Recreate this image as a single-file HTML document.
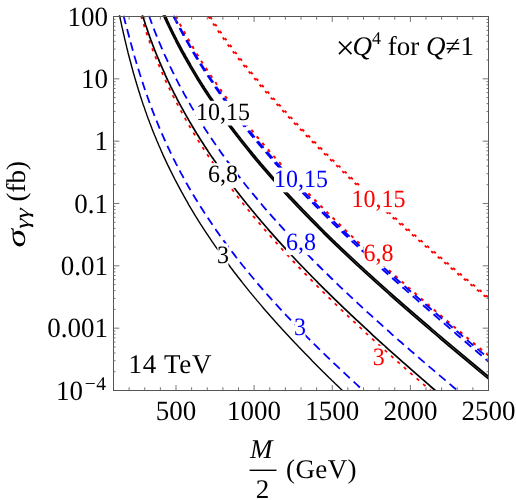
<!DOCTYPE html>
<html><head><meta charset="utf-8"><title>plot</title>
<style>
html,body{margin:0;padding:0;background:#fff;}
body{width:516px;height:500px;position:relative;overflow:hidden;font-family:"Liberation Serif",serif;color:#000;}
#wrap{position:absolute;left:0;top:0;width:516px;height:500px;will-change:transform;transform:translateZ(0);}
</style></head><body><div id="wrap">
<svg width="516" height="500" viewBox="0 0 516 500" style="position:absolute;left:0;top:0"><defs><clipPath id="c"><rect x="113.0" y="15.3" width="376.0" height="375.7"/></clipPath></defs><g clip-path="url(#c)" fill="none"><path d="M138.8 8.5L139.3 10.0L139.7 11.5L140.1 13.0L140.6 14.5L141.0 16.0L141.5 17.5L142.0 19.0L142.4 20.5L142.9 22.1L143.4 23.6L143.9 25.1L144.4 26.6L144.9 28.1L145.4 29.6L145.9 31.1L146.4 32.6L146.9 34.1L147.4 35.6L147.9 37.1L148.5 38.6L149.0 40.1L149.6 41.6L150.1 43.1L150.7 44.6L151.2 46.1L151.8 47.7L152.4 49.2L153.0 50.7L153.5 52.2L154.1 53.7L154.7 55.2L155.3 56.7L155.9 58.2L156.5 59.7L157.2 61.2L157.8 62.7L158.4 64.2L159.1 65.7L159.7 67.2L160.3 68.7L161.0 70.2L161.7 71.7L162.3 73.2L163.0 74.8L163.7 76.3L164.3 77.8L165.0 79.3L165.7 80.8L166.4 82.3L167.1 83.8L167.9 85.3L168.6 86.8L169.3 88.3L170.0 89.8L170.8 91.3L171.5 92.8L172.3 94.3L173.0 95.8L173.8 97.3L174.5 98.8L175.3 100.4L176.1 101.9L176.9 103.4L177.7 104.9L178.5 106.4L179.3 107.9L180.1 109.4L180.9 110.9L181.7 112.4L182.6 113.9L183.4 115.4L184.2 116.9L185.1 118.4L185.9 119.9L186.8 121.4L187.7 122.9L188.5 124.4L189.4 126.0L190.3 127.5L191.2 129.0L192.1 130.5L193.0 132.0L193.9 133.5L194.8 135.0L195.7 136.5L196.7 138.0L197.6 139.5L198.5 141.0L199.5 142.5L200.4 144.0L201.4 145.5L202.4 147.0L203.3 148.5L204.3 150.0L205.3 151.6L206.3 153.1L207.3 154.6L208.3 156.1L209.3 157.6L210.3 159.1L211.3 160.6L212.4 162.1L213.4 163.6L214.4 165.1L215.5 166.6L216.5 168.1L217.6 169.6L218.7 171.1L219.7 172.6L220.8 174.1L221.9 175.6L223.0 177.1L224.1 178.7L225.2 180.2L226.3 181.7L227.4 183.2L228.5 184.7L229.6 186.2L230.8 187.7L231.9 189.2L233.1 190.7L234.2 192.2L235.4 193.7L236.5 195.2L237.7 196.7L238.9 198.2L240.1 199.7L241.2 201.2L242.4 202.7L243.6 204.3L244.8 205.8L246.0 207.3L247.3 208.8L248.5 210.3L249.7 211.8L250.9 213.3L252.2 214.8L253.4 216.3L254.7 217.8L255.9 219.3L257.2 220.8L258.5 222.3L259.8 223.8L261.0 225.3L262.3 226.8L263.6 228.3L264.9 229.9L266.2 231.4L267.5 232.9L268.8 234.4L270.2 235.9L271.5 237.4L272.8 238.9L274.1 240.4L275.5 241.9L276.8 243.4L278.2 244.9L279.6 246.4L280.9 247.9L282.3 249.4L283.7 250.9L285.0 252.4L286.4 253.9L287.8 255.4L289.2 257.0L290.6 258.5L292.0 260.0L293.4 261.5L294.9 263.0L296.3 264.5L297.7 266.0L299.1 267.5L300.6 269.0L302.0 270.5L303.5 272.0L304.9 273.5L306.4 275.0L307.8 276.5L309.3 278.0L310.8 279.5L312.3 281.0L313.7 282.6L315.2 284.1L316.7 285.6L318.2 287.1L319.7 288.6L321.2 290.1L322.7 291.6L324.3 293.1L325.8 294.6L327.3 296.1L328.8 297.6L330.4 299.1L331.9 300.6L333.5 302.1L335.0 303.6L336.6 305.1L338.1 306.6L339.7 308.2L341.2 309.7L342.8 311.2L344.4 312.7L346.0 314.2L347.5 315.7L349.1 317.2L350.7 318.7L352.3 320.2L353.9 321.7L355.5 323.2L357.1 324.7L358.7 326.2L360.3 327.7L362.0 329.2L363.6 330.7L365.2 332.2L366.8 333.8L368.5 335.3L370.1 336.8L371.7 338.3L373.4 339.8L375.0 341.3L376.7 342.8L378.3 344.3L380.0 345.8L381.7 347.3L383.3 348.8L385.0 350.3L386.7 351.8L388.3 353.3L390.0 354.8L391.7 356.3L393.4 357.8L395.0 359.3L396.7 360.9L398.4 362.4L400.1 363.9L401.8 365.4L403.5 366.9L405.2 368.4L406.9 369.9L408.6 371.4L410.3 372.9L412.0 374.4L413.8 375.9L415.5 377.4L417.2 378.9L418.9 380.4L420.6 381.9L422.4 383.4L424.1 384.9L425.8 386.5L427.6 388.0L429.3 389.5L431.0 391.0L432.8 392.5L434.5 394.0L436.3 395.5L438.0 397.0L439.7 398.5" stroke="#ff0000" stroke-width="1.8" stroke-dasharray="3.2 5.35" stroke-dashoffset="-7.79"/><path d="M172.2 8.5L172.9 10.0L173.7 11.5L174.4 13.0L175.1 14.5L175.9 16.0L176.7 17.5L177.4 19.0L178.2 20.5L179.0 22.1L179.7 23.6L180.5 25.1L181.3 26.6L182.1 28.1L182.9 29.6L183.8 31.1L184.6 32.6L185.4 34.1L186.2 35.6L187.1 37.1L187.9 38.6L188.8 40.1L189.6 41.6L190.5 43.1L191.4 44.6L192.3 46.1L193.2 47.7L194.1 49.2L195.0 50.7L195.9 52.2L196.8 53.7L197.7 55.2L198.6 56.7L199.6 58.2L200.5 59.7L201.4 61.2L202.4 62.7L203.4 64.2L204.3 65.7L205.3 67.2L206.3 68.7L207.3 70.2L208.3 71.7L209.3 73.2L210.3 74.8L211.3 76.3L212.3 77.8L213.3 79.3L214.3 80.8L215.4 82.3L216.4 83.8L217.5 85.3L218.5 86.8L219.6 88.3L220.7 89.8L221.7 91.3L222.8 92.8L223.9 94.3L225.0 95.8L226.1 97.3L227.2 98.8L228.3 100.4L229.4 101.9L230.6 103.4L231.7 104.9L232.8 106.4L234.0 107.9L235.1 109.4L236.3 110.9L237.4 112.4L238.6 113.9L239.8 115.4L241.0 116.9L242.2 118.4L243.3 119.9L244.5 121.4L245.7 122.9L247.0 124.4L248.2 126.0L249.4 127.5L250.6 129.0L251.9 130.5L253.1 132.0L254.3 133.5L255.6 135.0L256.8 136.5L258.1 138.0L259.4 139.5L260.6 141.0L261.9 142.5L263.2 144.0L264.5 145.5L265.8 147.0L267.1 148.5L268.4 150.0L269.7 151.6L271.0 153.1L272.4 154.6L273.7 156.1L275.0 157.6L276.4 159.1L277.7 160.6L279.1 162.1L280.4 163.6L281.8 165.1L283.2 166.6L284.5 168.1L285.9 169.6L287.3 171.1L288.7 172.6L290.1 174.1L291.5 175.6L292.9 177.1L294.3 178.7L295.7 180.2L297.1 181.7L298.6 183.2L300.0 184.7L301.4 186.2L302.9 187.7L304.3 189.2L305.8 190.7L307.2 192.2L308.7 193.7L310.2 195.2L311.6 196.7L313.1 198.2L314.6 199.7L316.1 201.2L317.6 202.7L319.1 204.3L320.6 205.8L322.1 207.3L323.6 208.8L325.1 210.3L326.6 211.8L328.1 213.3L329.7 214.8L331.2 216.3L332.7 217.8L334.3 219.3L335.8 220.8L337.4 222.3L338.9 223.8L340.5 225.3L342.1 226.8L343.6 228.3L345.2 229.9L346.8 231.4L348.4 232.9L350.0 234.4L351.5 235.9L353.1 237.4L354.7 238.9L356.3 240.4L357.9 241.9L359.6 243.4L361.2 244.9L362.8 246.4L364.4 247.9L366.0 249.4L367.7 250.9L369.3 252.4L370.9 253.9L372.6 255.4L374.2 257.0L375.9 258.5L377.5 260.0L379.2 261.5L380.9 263.0L382.5 264.5L384.2 266.0L385.9 267.5L387.5 269.0L389.2 270.5L390.9 272.0L392.6 273.5L394.3 275.0L396.0 276.5L397.7 278.0L399.4 279.5L401.1 281.0L402.8 282.6L404.5 284.1L406.2 285.6L407.9 287.1L409.6 288.6L411.3 290.1L413.1 291.6L414.8 293.1L416.5 294.6L418.3 296.1L420.0 297.6L421.7 299.1L423.5 300.6L425.2 302.1L427.0 303.6L428.7 305.1L430.5 306.6L432.2 308.2L434.0 309.7L435.7 311.2L437.5 312.7L439.2 314.2L441.0 315.7L442.8 317.2L444.6 318.7L446.3 320.2L448.1 321.7L449.9 323.2L451.7 324.7L453.4 326.2L455.2 327.7L457.0 329.2L458.8 330.7L460.6 332.2L462.4 333.8L464.2 335.3L466.0 336.8L467.8 338.3L469.6 339.8L471.4 341.3L473.2 342.8L475.0 344.3L476.8 345.8L478.6 347.3L480.4 348.8L482.2 350.3L484.0 351.8L485.8 353.3L487.6 354.8L489.5 356.3L491.3 357.8L493.1 359.3L494.9 360.9L496.7 362.4L498.6 363.9L500.4 365.4L502.2 366.9L504.0 368.4L505.8 369.9L507.7 371.4L509.5 372.9L511.3 374.4L513.1 375.9L515.0 377.4L516.8 378.9L518.6 380.4L520.5 381.9L522.3 383.4L524.1 384.9L526.0 386.5L527.8 388.0L529.6 389.5L531.4 391.0L533.3 392.5L535.1 394.0L536.9 395.5L538.8 397.0L540.6 398.5" stroke="#ff0000" stroke-width="2.0" stroke-dasharray="3.2 5.35" stroke-dashoffset="-8.42"/><path d="M203.8 8.9L204.7 10.4L205.6 11.9L206.6 13.4L207.5 14.9L208.5 16.4L209.5 17.9L210.4 19.4L211.4 20.9L212.4 22.4L213.4 23.9L214.4 25.5L215.4 27.0L216.5 28.5L217.5 30.0L218.5 31.5L219.6 33.0L220.6 34.5L221.7 36.0L222.8 37.5L223.8 39.0L224.9 40.5L226.0 42.0L227.1 43.5L228.2 45.1L229.3 46.6L230.4 48.1L231.6 49.6L232.7 51.1L233.9 52.6L235.0 54.1L236.2 55.6L237.3 57.1L238.5 58.6L239.7 60.1L240.8 61.6L242.0 63.1L243.2 64.6L244.4 66.2L245.6 67.7L246.9 69.2L248.1 70.7L249.3 72.2L250.5 73.7L251.8 75.2L253.0 76.7L254.3 78.2L255.5 79.7L256.8 81.2L258.1 82.7L259.4 84.2L260.6 85.8L261.9 87.3L263.2 88.8L264.5 90.3L265.8 91.8L267.2 93.3L268.5 94.8L269.8 96.3L271.1 97.8L272.5 99.3L273.8 100.8L275.2 102.3L276.5 103.8L277.9 105.3L279.3 106.8L280.6 108.4L282.0 109.9L283.4 111.4L284.8 112.9L286.2 114.4L287.6 115.9L289.0 117.4L290.4 118.9L291.8 120.4L293.2 121.9L294.6 123.4L296.1 124.9L297.5 126.4L299.0 127.9L300.4 129.4L301.9 131.0L303.3 132.5L304.8 134.0L306.2 135.5L307.7 137.0L309.2 138.5L310.7 140.0L312.2 141.5L313.7 143.0L315.1 144.5L316.6 146.0L318.2 147.5L319.7 149.0L321.2 150.5L322.7 152.0L324.2 153.6L325.7 155.1L327.3 156.6L328.8 158.1L330.4 159.6L331.9 161.1L333.5 162.6L335.0 164.1L336.6 165.6L338.1 167.1L339.7 168.6L341.3 170.1L342.8 171.6L344.4 173.1L346.0 174.6L347.6 176.2L349.2 177.7L350.8 179.2L352.4 180.7L354.0 182.2L355.6 183.7L357.2 185.2L358.8 186.7L360.4 188.2L362.1 189.7L363.7 191.2L365.3 192.7L367.0 194.2L368.6 195.7L370.2 197.2L371.9 198.7L373.5 200.3L375.2 201.8L376.8 203.3L378.5 204.8L380.2 206.3L381.8 207.8L383.5 209.3L385.2 210.8L386.8 212.3L388.5 213.8L390.2 215.3L391.9 216.8L393.6 218.3L395.3 219.8L397.0 221.3L398.7 222.8L400.4 224.4L402.1 225.9L403.8 227.4L405.5 228.9L407.2 230.4L408.9 231.9L410.7 233.4L412.4 234.9L414.1 236.4L415.8 237.9L417.6 239.4L419.3 240.9L421.1 242.4L422.8 243.9L424.5 245.4L426.3 246.9L428.0 248.5L429.8 250.0L431.5 251.5L433.3 253.0L435.1 254.5L436.8 256.0L438.6 257.5L440.4 259.0L442.1 260.5L443.9 262.0L445.7 263.5L447.5 265.0L449.2 266.5L451.0 268.0L452.8 269.5L454.6 271.0L456.4 272.5L458.2 274.1L460.0 275.6L461.8 277.1L463.6 278.6L465.4 280.1L467.2 281.6L469.0 283.1L470.8 284.6L472.6 286.1L474.4 287.6L476.2 289.1L478.1 290.6L479.9 292.1L481.7 293.6L483.5 295.1L485.4 296.6L487.2 298.2L489.0 299.7L490.9 301.2L492.7 302.7L494.5 304.2L496.4 305.7L498.2 307.2L500.0 308.7L501.9 310.2L503.7 311.7L505.6 313.2L507.4 314.7L509.3 316.2L511.1 317.7L513.0 319.2L514.8 320.7L516.7 322.2L518.6 323.8L520.4 325.3L522.3 326.8L524.2 328.3L526.0 329.8L527.9 331.3L529.8 332.8L531.6 334.3L533.5 335.8L535.4 337.3L537.3 338.8L539.1 340.3L541.0 341.8L542.9 343.3L544.8 344.8L546.7 346.3L548.6 347.9L550.4 349.4L552.3 350.9L554.2 352.4L556.1 353.9L558.0 355.4L559.9 356.9L561.8 358.4L563.7 359.9L565.6 361.4L567.5 362.9L569.4 364.4L571.3 365.9L573.2 367.4L575.1 368.9L577.0 370.4L578.9 371.9L580.8 373.5L582.7 375.0L584.6 376.5L586.6 378.0L588.5 379.5L590.4 381.0L592.3 382.5L594.2 384.0L596.1 385.5L598.0 387.0L600.0 388.5L601.9 390.0L603.8 391.5L605.7 393.0L607.7 394.5L609.6 396.0L611.5 397.5L613.4 399.1" stroke="#ff0000" stroke-width="1.9" stroke-dasharray="2.8 5.75" stroke-dashoffset="-0.18"/><path d="M205.0 8.1L205.9 9.6L206.8 11.1L207.8 12.6L208.7 14.1L209.7 15.7L210.6 17.2L211.6 18.7L212.6 20.2L213.6 21.7L214.6 23.2L215.6 24.7L216.6 26.2L217.6 27.7L218.7 29.2L219.7 30.7L220.7 32.2L221.8 33.7L222.8 35.2L223.9 36.7L225.0 38.2L226.1 39.7L227.1 41.2L228.2 42.7L229.3 44.2L230.5 45.7L231.6 47.2L232.7 48.7L233.8 50.2L235.0 51.7L236.1 53.2L237.3 54.8L238.4 56.3L239.6 57.8L240.8 59.3L241.9 60.8L243.1 62.3L244.3 63.8L245.5 65.3L246.7 66.8L247.9 68.3L249.2 69.8L250.4 71.3L251.6 72.8L252.9 74.3L254.1 75.8L255.4 77.3L256.6 78.8L257.9 80.3L259.1 81.8L260.4 83.3L261.7 84.8L263.0 86.3L264.3 87.8L265.6 89.4L266.9 90.9L268.2 92.4L269.5 93.9L270.9 95.4L272.2 96.9L273.5 98.4L274.9 99.9L276.2 101.4L277.6 102.9L278.9 104.4L280.3 105.9L281.7 107.4L283.0 108.9L284.4 110.4L285.8 111.9L287.2 113.4L288.6 114.9L290.0 116.4L291.4 117.9L292.8 119.4L294.2 121.0L295.7 122.5L297.1 124.0L298.5 125.5L300.0 127.0L301.4 128.5L302.9 130.0L304.3 131.5L305.8 133.0L307.2 134.5L308.7 136.0L310.2 137.5L311.7 139.0L313.2 140.5L314.6 142.0L316.1 143.5L317.6 145.0L319.1 146.5L320.6 148.0L322.2 149.5L323.7 151.1L325.2 152.6L326.7 154.1L328.3 155.6L329.8 157.1L331.3 158.6L332.9 160.1L334.4 161.6L336.0 163.1L337.5 164.6L339.1 166.1L340.7 167.6L342.2 169.1L343.8 170.6L345.4 172.1L347.0 173.6L348.6 175.1L350.1 176.6L351.7 178.1L353.3 179.7L354.9 181.2L356.6 182.7L358.2 184.2L359.8 185.7L361.4 187.2L363.0 188.7L364.6 190.2L366.3 191.7L367.9 193.2L369.5 194.7L371.2 196.2L372.8 197.7L374.5 199.2L376.1 200.7L377.8 202.2L379.4 203.7L381.1 205.2L382.8 206.7L384.4 208.3L386.1 209.8L387.8 211.3L389.5 212.8L391.1 214.3L392.8 215.8L394.5 217.3L396.2 218.8L397.9 220.3L399.6 221.8L401.3 223.3L403.0 224.8L404.7 226.3L406.4 227.8L408.1 229.3L409.9 230.8L411.6 232.3L413.3 233.8L415.0 235.3L416.8 236.9L418.5 238.4L420.2 239.9L422.0 241.4L423.7 242.9L425.5 244.4L427.2 245.9L428.9 247.4L430.7 248.9L432.5 250.4L434.2 251.9L436.0 253.4L437.7 254.9L439.5 256.4L441.3 257.9L443.0 259.4L444.8 260.9L446.6 262.4L448.4 264.0L450.1 265.5L451.9 267.0L453.7 268.5L455.5 270.0L457.3 271.5L459.1 273.0L460.9 274.5L462.7 276.0L464.5 277.5L466.3 279.0L468.1 280.5L469.9 282.0L471.7 283.5L473.5 285.0L475.3 286.5L477.1 288.0L479.0 289.5L480.8 291.0L482.6 292.6L484.4 294.1L486.2 295.6L488.1 297.1L489.9 298.6L491.7 300.1L493.6 301.6L495.4 303.1L497.2 304.6L499.1 306.1L500.9 307.6L502.8 309.1L504.6 310.6L506.5 312.1L508.3 313.6L510.2 315.1L512.0 316.6L513.9 318.1L515.7 319.7L517.6 321.2L519.4 322.7L521.3 324.2L523.2 325.7L525.0 327.2L526.9 328.7L528.8 330.2L530.6 331.7L532.5 333.2L534.4 334.7L536.3 336.2L538.1 337.7L540.0 339.2L541.9 340.7L543.8 342.2L545.7 343.7L547.5 345.3L549.4 346.8L551.3 348.3L553.2 349.8L555.1 351.3L557.0 352.8L558.9 354.3L560.8 355.8L562.7 357.3L564.6 358.8L566.5 360.3L568.4 361.8L570.3 363.3L572.2 364.8L574.1 366.3L576.0 367.8L577.9 369.3L579.8 370.8L581.7 372.4L583.6 373.9L585.5 375.4L587.4 376.9L589.3 378.4L591.2 379.9L593.2 381.4L595.1 382.9L597.0 384.4L598.9 385.9L600.8 387.4L602.8 388.9L604.7 390.4L606.6 391.9L608.5 393.4L610.4 394.9L612.4 396.4L614.3 397.9" stroke="#ff0000" stroke-width="1.9" stroke-dasharray="2.8 5.75" stroke-dashoffset="-1.68"/><path d="M121.7 8.5L122.1 10.0L122.5 11.5L122.9 13.0L123.3 14.5L123.7 16.0L124.0 17.5L124.4 19.0L124.8 20.5L125.2 22.1L125.6 23.6L126.0 25.1L126.4 26.6L126.8 28.1L127.2 29.6L127.6 31.1L128.0 32.6L128.4 34.1L128.8 35.6L129.2 37.1L129.6 38.6L130.0 40.1L130.4 41.6L130.8 43.1L131.2 44.6L131.7 46.1L132.1 47.7L132.5 49.2L132.9 50.7L133.3 52.2L133.8 53.7L134.2 55.2L134.6 56.7L135.1 58.2L135.5 59.7L136.0 61.2L136.4 62.7L136.9 64.2L137.3 65.7L137.8 67.2L138.2 68.7L138.7 70.2L139.2 71.7L139.6 73.2L140.1 74.8L140.6 76.3L141.1 77.8L141.5 79.3L142.0 80.8L142.5 82.3L143.0 83.8L143.5 85.3L144.0 86.8L144.5 88.3L145.0 89.8L145.5 91.3L146.1 92.8L146.6 94.3L147.1 95.8L147.6 97.3L148.2 98.8L148.7 100.4L149.3 101.9L149.8 103.4L150.4 104.9L150.9 106.4L151.5 107.9L152.1 109.4L152.6 110.9L153.2 112.4L153.8 113.9L154.4 115.4L155.0 116.9L155.6 118.4L156.2 119.9L156.8 121.4L157.4 122.9L158.0 124.4L158.6 126.0L159.3 127.5L159.9 129.0L160.5 130.5L161.2 132.0L161.8 133.5L162.5 135.0L163.2 136.5L163.8 138.0L164.5 139.5L165.2 141.0L165.9 142.5L166.5 144.0L167.2 145.5L167.9 147.0L168.6 148.5L169.4 150.0L170.1 151.6L170.8 153.1L171.5 154.6L172.3 156.1L173.0 157.6L173.7 159.1L174.5 160.6L175.3 162.1L176.0 163.6L176.8 165.1L177.6 166.6L178.4 168.1L179.1 169.6L179.9 171.1L180.7 172.6L181.5 174.1L182.4 175.6L183.2 177.1L184.0 178.7L184.8 180.2L185.7 181.7L186.5 183.2L187.4 184.7L188.2 186.2L189.1 187.7L190.0 189.2L190.9 190.7L191.7 192.2L192.6 193.7L193.5 195.2L194.4 196.7L195.3 198.2L196.3 199.7L197.2 201.2L198.1 202.7L199.0 204.3L200.0 205.8L200.9 207.3L201.9 208.8L202.9 210.3L203.8 211.8L204.8 213.3L205.8 214.8L206.8 216.3L207.8 217.8L208.8 219.3L209.8 220.8L210.8 222.3L211.8 223.8L212.8 225.3L213.9 226.8L214.9 228.3L216.0 229.9L217.0 231.4L218.1 232.9L219.2 234.4L220.2 235.9L221.3 237.4L222.4 238.9L223.5 240.4L224.6 241.9L225.7 243.4L226.8 244.9L228.0 246.4L229.1 247.9L230.2 249.4L231.4 250.9L232.5 252.4L233.7 253.9L234.8 255.4L236.0 257.0L237.2 258.5L238.3 260.0L239.5 261.5L240.7 263.0L241.9 264.5L243.1 266.0L244.4 267.5L245.6 269.0L246.8 270.5L248.0 272.0L249.3 273.5L250.5 275.0L251.8 276.5L253.0 278.0L254.3 279.5L255.6 281.0L256.8 282.6L258.1 284.1L259.4 285.6L260.7 287.1L262.0 288.6L263.3 290.1L264.7 291.6L266.0 293.1L267.3 294.6L268.6 296.1L270.0 297.6L271.3 299.1L272.7 300.6L274.0 302.1L275.4 303.6L276.8 305.1L278.2 306.6L279.5 308.2L280.9 309.7L282.3 311.2L283.7 312.7L285.1 314.2L286.5 315.7L288.0 317.2L289.4 318.7L290.8 320.2L292.2 321.7L293.7 323.2L295.1 324.7L296.6 326.2L298.0 327.7L299.5 329.2L301.0 330.7L302.5 332.2L303.9 333.8L305.4 335.3L306.9 336.8L308.4 338.3L309.9 339.8L311.4 341.3L312.9 342.8L314.4 344.3L316.0 345.8L317.5 347.3L319.0 348.8L320.6 350.3L322.1 351.8L323.6 353.3L325.2 354.8L326.7 356.3L328.3 357.8L329.9 359.3L331.4 360.9L333.0 362.4L334.6 363.9L336.2 365.4L337.8 366.9L339.4 368.4L341.0 369.9L342.6 371.4L344.2 372.9L345.8 374.4L347.4 375.9L349.0 377.4L350.6 378.9L352.3 380.4L353.9 381.9L355.5 383.4L357.2 384.9L358.8 386.5L360.4 388.0L362.1 389.5L363.7 391.0L365.4 392.5L367.1 394.0L368.7 395.5L370.4 397.0L372.0 398.5" stroke="#0000ff" stroke-width="1.8" stroke-dasharray="8.6 5.15" stroke-dashoffset="-7.53"/><path d="M146.5 8.5L147.0 10.0L147.6 11.5L148.1 13.0L148.6 14.5L149.1 16.0L149.7 17.5L150.2 19.0L150.8 20.5L151.3 22.1L151.9 23.6L152.4 25.1L153.0 26.6L153.6 28.1L154.2 29.6L154.7 31.1L155.3 32.6L155.9 34.1L156.5 35.6L157.1 37.1L157.8 38.6L158.4 40.1L159.0 41.6L159.6 43.1L160.3 44.6L160.9 46.1L161.5 47.7L162.2 49.2L162.8 50.7L163.5 52.2L164.2 53.7L164.8 55.2L165.5 56.7L166.2 58.2L166.9 59.7L167.6 61.2L168.3 62.7L169.0 64.2L169.7 65.7L170.4 67.2L171.2 68.7L171.9 70.2L172.6 71.7L173.4 73.2L174.1 74.8L174.9 76.3L175.6 77.8L176.4 79.3L177.2 80.8L178.0 82.3L178.7 83.8L179.5 85.3L180.3 86.8L181.1 88.3L181.9 89.8L182.8 91.3L183.6 92.8L184.4 94.3L185.2 95.8L186.1 97.3L186.9 98.8L187.8 100.4L188.6 101.9L189.5 103.4L190.4 104.9L191.2 106.4L192.1 107.9L193.0 109.4L193.9 110.9L194.8 112.4L195.7 113.9L196.6 115.4L197.6 116.9L198.5 118.4L199.4 119.9L200.3 121.4L201.3 122.9L202.2 124.4L203.2 126.0L204.2 127.5L205.1 129.0L206.1 130.5L207.1 132.0L208.1 133.5L209.1 135.0L210.1 136.5L211.1 138.0L212.1 139.5L213.1 141.0L214.1 142.5L215.2 144.0L216.2 145.5L217.3 147.0L218.3 148.5L219.4 150.0L220.4 151.6L221.5 153.1L222.6 154.6L223.7 156.1L224.7 157.6L225.8 159.1L226.9 160.6L228.1 162.1L229.2 163.6L230.3 165.1L231.4 166.6L232.5 168.1L233.7 169.6L234.8 171.1L236.0 172.6L237.1 174.1L238.3 175.6L239.5 177.1L240.6 178.7L241.8 180.2L243.0 181.7L244.2 183.2L245.4 184.7L246.6 186.2L247.8 187.7L249.0 189.2L250.3 190.7L251.5 192.2L252.7 193.7L254.0 195.2L255.2 196.7L256.5 198.2L257.7 199.7L259.0 201.2L260.3 202.7L261.6 204.3L262.8 205.8L264.1 207.3L265.4 208.8L266.7 210.3L268.0 211.8L269.4 213.3L270.7 214.8L272.0 216.3L273.3 217.8L274.7 219.3L276.0 220.8L277.4 222.3L278.7 223.8L280.1 225.3L281.5 226.8L282.8 228.3L284.2 229.9L285.6 231.4L287.0 232.9L288.4 234.4L289.8 235.9L291.2 237.4L292.6 238.9L294.0 240.4L295.4 241.9L296.9 243.4L298.3 244.9L299.7 246.4L301.2 247.9L302.6 249.4L304.1 250.9L305.5 252.4L307.0 253.9L308.5 255.4L309.9 257.0L311.4 258.5L312.9 260.0L314.4 261.5L315.9 263.0L317.4 264.5L318.9 266.0L320.4 267.5L321.9 269.0L323.5 270.5L325.0 272.0L326.5 273.5L328.1 275.0L329.6 276.5L331.1 278.0L332.7 279.5L334.2 281.0L335.8 282.6L337.4 284.1L338.9 285.6L340.5 287.1L342.1 288.6L343.7 290.1L345.3 291.6L346.9 293.1L348.5 294.6L350.1 296.1L351.7 297.6L353.3 299.1L354.9 300.6L356.5 302.1L358.1 303.6L359.8 305.1L361.4 306.6L363.0 308.2L364.7 309.7L366.3 311.2L367.9 312.7L369.6 314.2L371.3 315.7L372.9 317.2L374.6 318.7L376.2 320.2L377.9 321.7L379.6 323.2L381.3 324.7L382.9 326.2L384.6 327.7L386.3 329.2L388.0 330.7L389.7 332.2L391.4 333.8L393.1 335.3L394.8 336.8L396.5 338.3L398.2 339.8L399.9 341.3L401.7 342.8L403.4 344.3L405.1 345.8L406.8 347.3L408.6 348.8L410.3 350.3L412.0 351.8L413.8 353.3L415.5 354.8L417.3 356.3L419.0 357.8L420.7 359.3L422.5 360.9L424.3 362.4L426.0 363.9L427.8 365.4L429.5 366.9L431.3 368.4L433.1 369.9L434.8 371.4L436.6 372.9L438.4 374.4L440.1 375.9L441.9 377.4L443.7 378.9L445.5 380.4L447.3 381.9L449.0 383.4L450.8 384.9L452.6 386.5L454.4 388.0L456.2 389.5L458.0 391.0L459.8 392.5L461.6 394.0L463.3 395.5L465.1 397.0L466.9 398.5" stroke="#0000ff" stroke-width="1.8" stroke-dasharray="8.6 5.15" stroke-dashoffset="-7.62"/><path d="M169.7 8.6L170.4 10.1L171.1 11.6L171.9 13.1L172.6 14.7L173.4 16.2L174.1 17.7L174.9 19.2L175.6 20.7L176.4 22.2L177.2 23.7L178.0 25.2L178.8 26.7L179.6 28.2L180.4 29.7L181.2 31.2L182.0 32.8L182.8 34.3L183.6 35.8L184.5 37.3L185.3 38.8L186.1 40.3L187.0 41.8L187.9 43.3L188.7 44.8L189.6 46.3L190.4 47.8L191.3 49.4L192.2 50.9L193.1 52.4L194.0 53.9L194.9 55.4L195.8 56.9L196.7 58.4L197.6 59.9L198.6 61.4L199.5 62.9L200.4 64.4L201.4 66.0L202.3 67.5L203.3 69.0L204.2 70.5L205.2 72.0L206.2 73.5L207.2 75.0L208.2 76.5L209.2 78.0L210.2 79.5L211.2 81.0L212.2 82.6L213.2 84.1L214.2 85.6L215.2 87.1L216.3 88.6L217.3 90.1L218.4 91.6L219.4 93.1L220.5 94.6L221.6 96.1L222.6 97.6L223.7 99.2L224.8 100.7L225.9 102.2L227.0 103.7L228.1 105.2L229.2 106.7L230.3 108.2L231.5 109.7L232.6 111.2L233.7 112.7L234.9 114.3L236.0 115.8L237.2 117.3L238.3 118.8L239.5 120.3L240.7 121.8L241.9 123.3L243.0 124.8L244.2 126.3L245.4 127.8L246.6 129.3L247.9 130.9L249.1 132.4L250.3 133.9L251.5 135.4L252.8 136.9L254.0 138.4L255.3 139.9L256.5 141.4L257.8 142.9L259.0 144.4L260.3 146.0L261.6 147.5L262.9 149.0L264.2 150.5L265.5 152.0L266.8 153.5L268.1 155.0L269.4 156.5L270.7 158.0L272.0 159.5L273.4 161.1L274.7 162.6L276.0 164.1L277.4 165.6L278.7 167.1L280.1 168.6L281.5 170.1L282.8 171.6L284.2 173.1L285.6 174.6L287.0 176.2L288.4 177.7L289.8 179.2L291.2 180.7L292.6 182.2L294.0 183.7L295.5 185.2L296.9 186.7L298.3 188.2L299.8 189.7L301.2 191.2L302.7 192.8L304.1 194.3L305.6 195.8L307.0 197.3L308.5 198.8L310.0 200.3L311.5 201.8L313.0 203.3L314.5 204.8L315.9 206.3L317.5 207.9L319.0 209.4L320.5 210.9L322.0 212.4L323.5 213.9L325.0 215.4L326.6 216.9L328.1 218.4L329.7 219.9L331.2 221.4L332.7 223.0L334.3 224.5L335.9 226.0L337.4 227.5L339.0 229.0L340.6 230.5L342.2 232.0L343.7 233.5L345.3 235.0L346.9 236.5L348.5 238.1L350.1 239.6L351.7 241.1L353.3 242.6L354.9 244.1L356.6 245.6L358.2 247.1L359.8 248.6L361.4 250.1L363.1 251.6L364.7 253.1L366.3 254.7L368.0 256.2L369.6 257.7L371.3 259.2L372.9 260.7L374.6 262.2L376.2 263.7L377.9 265.2L379.6 266.7L381.3 268.2L382.9 269.8L384.6 271.3L386.3 272.8L388.0 274.3L389.7 275.8L391.3 277.3L393.0 278.8L394.7 280.3L396.4 281.8L398.1 283.3L399.8 284.8L401.5 286.4L403.3 287.9L405.0 289.4L406.7 290.9L408.4 292.4L410.1 293.9L411.8 295.4L413.6 296.9L415.3 298.4L417.0 299.9L418.7 301.5L420.5 303.0L422.2 304.5L423.9 306.0L425.7 307.5L427.4 309.0L429.1 310.5L430.9 312.0L432.6 313.5L434.4 315.0L436.1 316.5L437.9 318.1L439.6 319.6L441.4 321.1L443.1 322.6L444.9 324.1L446.6 325.6L448.4 327.1L450.1 328.6L451.9 330.1L453.6 331.6L455.4 333.1L457.1 334.7L458.9 336.2L460.7 337.7L462.4 339.2L464.2 340.7L465.9 342.2L467.7 343.7L469.4 345.2L471.2 346.7L472.9 348.2L474.7 349.7L476.5 351.3L478.2 352.8L480.0 354.3L481.7 355.8L483.5 357.3L485.2 358.8L487.0 360.3L488.7 361.8L490.5 363.3L492.2 364.8L494.0 366.3L495.7 367.9L497.4 369.4L499.2 370.9L500.9 372.4L502.7 373.9L504.4 375.4L506.1 376.9L507.9 378.4L509.6 379.9L511.3 381.4L513.1 382.9L514.8 384.4L516.5 386.0L518.2 387.5L519.9 389.0L521.6 390.5L523.4 392.0L525.1 393.5L526.8 395.0L528.5 396.5L530.2 398.0L531.9 399.5" stroke="#0000ff" stroke-width="1.9" stroke-dasharray="8.6 5.15" stroke-dashoffset="-8.08"/><path d="M170.2 8.4L170.9 9.9L171.6 11.4L172.4 12.9L173.1 14.4L173.9 15.9L174.7 17.4L175.4 18.9L176.2 20.4L177.0 21.9L177.8 23.4L178.6 24.9L179.4 26.4L180.2 27.9L181.0 29.4L181.8 30.9L182.6 32.4L183.4 33.9L184.3 35.4L185.1 36.9L185.9 38.4L186.8 39.9L187.6 41.4L188.5 42.9L189.4 44.5L190.2 46.0L191.1 47.5L192.0 49.0L192.9 50.5L193.8 52.0L194.7 53.5L195.6 55.0L196.5 56.5L197.4 58.0L198.4 59.5L199.3 61.0L200.2 62.5L201.2 64.0L202.1 65.5L203.1 67.0L204.0 68.5L205.0 70.0L206.0 71.5L207.0 73.0L207.9 74.5L208.9 76.0L209.9 77.5L210.9 79.0L212.0 80.5L213.0 82.0L214.0 83.5L215.0 85.0L216.1 86.5L217.1 88.0L218.2 89.5L219.2 91.0L220.3 92.5L221.3 94.0L222.4 95.5L223.5 97.0L224.6 98.5L225.7 100.0L226.8 101.5L227.9 103.0L229.0 104.5L230.1 106.0L231.2 107.5L232.4 109.1L233.5 110.6L234.6 112.1L235.8 113.6L236.9 115.1L238.1 116.6L239.3 118.1L240.4 119.6L241.6 121.1L242.8 122.6L244.0 124.1L245.2 125.6L246.4 127.1L247.6 128.6L248.8 130.1L250.0 131.6L251.3 133.1L252.5 134.6L253.7 136.1L255.0 137.6L256.2 139.1L257.5 140.6L258.8 142.1L260.0 143.6L261.3 145.1L262.6 146.6L263.9 148.1L265.2 149.6L266.5 151.1L267.8 152.6L269.1 154.1L270.4 155.6L271.7 157.1L273.1 158.6L274.4 160.1L275.8 161.6L277.1 163.1L278.5 164.6L279.8 166.1L281.2 167.6L282.6 169.1L283.9 170.6L285.3 172.1L286.7 173.6L288.1 175.1L289.5 176.6L290.9 178.1L292.3 179.6L293.7 181.1L295.2 182.6L296.6 184.1L298.0 185.6L299.4 187.1L300.9 188.7L302.3 190.2L303.8 191.7L305.3 193.2L306.7 194.7L308.2 196.2L309.7 197.7L311.2 199.2L312.6 200.7L314.1 202.2L315.6 203.7L317.1 205.2L318.6 206.7L320.1 208.2L321.7 209.7L323.2 211.2L324.7 212.7L326.2 214.2L327.8 215.7L329.3 217.2L330.9 218.7L332.4 220.2L334.0 221.7L335.5 223.2L337.1 224.7L338.7 226.2L340.2 227.7L341.8 229.2L343.4 230.7L345.0 232.2L346.6 233.7L348.2 235.2L349.8 236.7L351.4 238.2L353.0 239.7L354.6 241.2L356.2 242.7L357.8 244.2L359.5 245.7L361.1 247.2L362.7 248.7L364.4 250.2L366.0 251.7L367.6 253.2L369.3 254.7L370.9 256.2L372.6 257.7L374.3 259.2L375.9 260.7L377.6 262.2L379.2 263.7L380.9 265.2L382.6 266.7L384.3 268.3L386.0 269.8L387.6 271.3L389.3 272.8L391.0 274.3L392.7 275.8L394.4 277.3L396.1 278.8L397.8 280.3L399.5 281.8L401.2 283.3L402.9 284.8L404.7 286.3L406.4 287.8L408.1 289.3L409.8 290.8L411.5 292.3L413.3 293.8L415.0 295.3L416.7 296.8L418.4 298.3L420.2 299.8L421.9 301.3L423.7 302.8L425.4 304.3L427.1 305.8L428.9 307.3L430.6 308.8L432.4 310.3L434.1 311.8L435.9 313.3L437.6 314.8L439.4 316.3L441.1 317.8L442.9 319.3L444.6 320.8L446.4 322.3L448.1 323.8L449.9 325.3L451.6 326.8L453.4 328.3L455.2 329.8L456.9 331.3L458.7 332.8L460.4 334.3L462.2 335.9L464.0 337.4L465.7 338.9L467.5 340.4L469.3 341.9L471.0 343.4L472.8 344.9L474.5 346.4L476.3 347.9L478.1 349.4L479.8 350.9L481.6 352.4L483.3 353.9L485.1 355.4L486.9 356.9L488.6 358.4L490.4 359.9L492.1 361.4L493.9 362.9L495.6 364.4L497.4 365.9L499.1 367.4L500.9 368.9L502.6 370.4L504.4 371.9L506.1 373.4L507.9 374.9L509.6 376.4L511.3 377.9L513.1 379.4L514.8 380.9L516.5 382.4L518.3 383.9L520.0 385.4L521.7 386.9L523.4 388.5L525.1 390.0L526.9 391.5L528.6 393.0L530.3 394.5L532.0 396.0L533.7 397.5" stroke="#0000ff" stroke-width="1.9" stroke-dasharray="8.6 5.15" stroke-dashoffset="-8.41"/><path d="M118.1 8.5L118.4 10.0L118.7 11.5L119.0 13.0L119.4 14.5L119.7 16.0L120.0 17.5L120.3 19.0L120.6 20.5L121.0 22.1L121.3 23.6L121.6 25.1L121.9 26.6L122.3 28.1L122.6 29.6L123.0 31.1L123.3 32.6L123.6 34.1L124.0 35.6L124.3 37.1L124.7 38.6L125.0 40.1L125.4 41.6L125.7 43.1L126.1 44.6L126.5 46.1L126.8 47.7L127.2 49.2L127.6 50.7L127.9 52.2L128.3 53.7L128.7 55.2L129.1 56.7L129.5 58.2L129.9 59.7L130.3 61.2L130.7 62.7L131.1 64.2L131.5 65.7L131.9 67.2L132.3 68.7L132.7 70.2L133.1 71.7L133.5 73.2L134.0 74.8L134.4 76.3L134.8 77.8L135.3 79.3L135.7 80.8L136.2 82.3L136.6 83.8L137.1 85.3L137.5 86.8L138.0 88.3L138.4 89.8L138.9 91.3L139.4 92.8L139.9 94.3L140.3 95.8L140.8 97.3L141.3 98.8L141.8 100.4L142.3 101.9L142.8 103.4L143.3 104.9L143.9 106.4L144.4 107.9L144.9 109.4L145.4 110.9L146.0 112.4L146.5 113.9L147.0 115.4L147.6 116.9L148.1 118.4L148.7 119.9L149.3 121.4L149.8 122.9L150.4 124.4L151.0 126.0L151.6 127.5L152.1 129.0L152.7 130.5L153.3 132.0L153.9 133.5L154.5 135.0L155.2 136.5L155.8 138.0L156.4 139.5L157.0 141.0L157.7 142.5L158.3 144.0L158.9 145.5L159.6 147.0L160.3 148.5L160.9 150.0L161.6 151.6L162.3 153.1L162.9 154.6L163.6 156.1L164.3 157.6L165.0 159.1L165.7 160.6L166.4 162.1L167.1 163.6L167.8 165.1L168.6 166.6L169.3 168.1L170.0 169.6L170.8 171.1L171.5 172.6L172.3 174.1L173.0 175.6L173.8 177.1L174.6 178.7L175.3 180.2L176.1 181.7L176.9 183.2L177.7 184.7L178.5 186.2L179.3 187.7L180.1 189.2L180.9 190.7L181.7 192.2L182.6 193.7L183.4 195.2L184.2 196.7L185.1 198.2L185.9 199.7L186.8 201.2L187.7 202.7L188.5 204.3L189.4 205.8L190.3 207.3L191.2 208.8L192.1 210.3L193.0 211.8L193.9 213.3L194.8 214.8L195.7 216.3L196.7 217.8L197.6 219.3L198.5 220.8L199.5 222.3L200.4 223.8L201.4 225.3L202.4 226.8L203.3 228.3L204.3 229.9L205.3 231.4L206.3 232.9L207.3 234.4L208.3 235.9L209.3 237.4L210.3 238.9L211.3 240.4L212.3 241.9L213.4 243.4L214.4 244.9L215.4 246.4L216.5 247.9L217.6 249.4L218.6 250.9L219.7 252.4L220.8 253.9L221.8 255.4L222.9 257.0L224.0 258.5L225.1 260.0L226.2 261.5L227.3 263.0L228.5 264.5L229.6 266.0L230.7 267.5L231.9 269.0L233.0 270.5L234.1 272.0L235.3 273.5L236.5 275.0L237.6 276.5L238.8 278.0L240.0 279.5L241.2 281.0L242.4 282.6L243.6 284.1L244.8 285.6L246.0 287.1L247.2 288.6L248.4 290.1L249.6 291.6L250.9 293.1L252.1 294.6L253.4 296.1L254.6 297.6L255.9 299.1L257.1 300.6L258.4 302.1L259.7 303.6L261.0 305.1L262.2 306.6L263.5 308.2L264.8 309.7L266.1 311.2L267.5 312.7L268.8 314.2L270.1 315.7L271.4 317.2L272.8 318.7L274.1 320.2L275.4 321.7L276.8 323.2L278.1 324.7L279.5 326.2L280.9 327.7L282.2 329.2L283.6 330.7L285.0 332.2L286.4 333.8L287.8 335.3L289.2 336.8L290.6 338.3L292.0 339.8L293.4 341.3L294.8 342.8L296.3 344.3L297.7 345.8L299.1 347.3L300.6 348.8L302.0 350.3L303.5 351.8L304.9 353.3L306.4 354.8L307.9 356.3L309.4 357.8L310.8 359.3L312.3 360.9L313.8 362.4L315.3 363.9L316.8 365.4L318.3 366.9L319.8 368.4L321.3 369.9L322.8 371.4L324.4 372.9L325.9 374.4L327.4 375.9L328.9 377.4L330.5 378.9L332.0 380.4L333.6 381.9L335.1 383.4L336.7 384.9L338.3 386.5L339.8 388.0L341.4 389.5L343.0 391.0L344.5 392.5L346.1 394.0L347.7 395.5L349.3 397.0L350.9 398.5" stroke="#000000" stroke-width="1.4"/><path d="M140.4 8.5L140.9 10.0L141.3 11.5L141.8 13.0L142.3 14.5L142.7 16.0L143.2 17.5L143.7 19.0L144.2 20.5L144.7 22.1L145.1 23.6L145.6 25.1L146.2 26.6L146.7 28.1L147.2 29.6L147.7 31.1L148.2 32.6L148.8 34.1L149.3 35.6L149.8 37.1L150.4 38.6L150.9 40.1L151.5 41.6L152.1 43.1L152.6 44.6L153.2 46.1L153.8 47.7L154.4 49.2L155.0 50.7L155.6 52.2L156.2 53.7L156.8 55.2L157.4 56.7L158.0 58.2L158.7 59.7L159.3 61.2L159.9 62.7L160.6 64.2L161.2 65.7L161.9 67.2L162.5 68.7L163.2 70.2L163.9 71.7L164.6 73.2L165.2 74.8L165.9 76.3L166.6 77.8L167.3 79.3L168.0 80.8L168.8 82.3L169.5 83.8L170.2 85.3L170.9 86.8L171.7 88.3L172.4 89.8L173.2 91.3L173.9 92.8L174.7 94.3L175.5 95.8L176.3 97.3L177.0 98.8L177.8 100.4L178.6 101.9L179.4 103.4L180.2 104.9L181.0 106.4L181.9 107.9L182.7 109.4L183.5 110.9L184.3 112.4L185.2 113.9L186.0 115.4L186.9 116.9L187.8 118.4L188.6 119.9L189.5 121.4L190.4 122.9L191.3 124.4L192.2 126.0L193.1 127.5L194.0 129.0L194.9 130.5L195.8 132.0L196.7 133.5L197.7 135.0L198.6 136.5L199.5 138.0L200.5 139.5L201.4 141.0L202.4 142.5L203.4 144.0L204.3 145.5L205.3 147.0L206.3 148.5L207.3 150.0L208.3 151.6L209.3 153.1L210.3 154.6L211.3 156.1L212.3 157.6L213.4 159.1L214.4 160.6L215.5 162.1L216.5 163.6L217.6 165.1L218.6 166.6L219.7 168.1L220.8 169.6L221.8 171.1L222.9 172.6L224.0 174.1L225.1 175.6L226.2 177.1L227.3 178.7L228.4 180.2L229.6 181.7L230.7 183.2L231.8 184.7L233.0 186.2L234.1 187.7L235.3 189.2L236.4 190.7L237.6 192.2L238.8 193.7L239.9 195.2L241.1 196.7L242.3 198.2L243.5 199.7L244.7 201.2L245.9 202.7L247.1 204.3L248.3 205.8L249.6 207.3L250.8 208.8L252.0 210.3L253.3 211.8L254.5 213.3L255.8 214.8L257.0 216.3L258.3 217.8L259.6 219.3L260.8 220.8L262.1 222.3L263.4 223.8L264.7 225.3L266.0 226.8L267.3 228.3L268.6 229.9L269.9 231.4L271.3 232.9L272.6 234.4L273.9 235.9L275.3 237.4L276.6 238.9L277.9 240.4L279.3 241.9L280.7 243.4L282.0 244.9L283.4 246.4L284.8 247.9L286.2 249.4L287.5 250.9L288.9 252.4L290.3 253.9L291.7 255.4L293.2 257.0L294.6 258.5L296.0 260.0L297.4 261.5L298.8 263.0L300.3 264.5L301.7 266.0L303.2 267.5L304.6 269.0L306.1 270.5L307.5 272.0L309.0 273.5L310.5 275.0L311.9 276.5L313.4 278.0L314.9 279.5L316.4 281.0L317.9 282.6L319.4 284.1L320.9 285.6L322.4 287.1L323.9 288.6L325.4 290.1L327.0 291.6L328.5 293.1L330.0 294.6L331.6 296.1L333.1 297.6L334.6 299.1L336.2 300.6L337.8 302.1L339.3 303.6L340.9 305.1L342.4 306.6L344.0 308.2L345.6 309.7L347.2 311.2L348.8 312.7L350.3 314.2L351.9 315.7L353.5 317.2L355.1 318.7L356.7 320.2L358.4 321.7L360.0 323.2L361.6 324.7L363.2 326.2L364.8 327.7L366.5 329.2L368.1 330.7L369.7 332.2L371.4 333.8L373.0 335.3L374.7 336.8L376.3 338.3L378.0 339.8L379.6 341.3L381.3 342.8L382.9 344.3L384.6 345.8L386.3 347.3L387.9 348.8L389.6 350.3L391.3 351.8L393.0 353.3L394.7 354.8L396.4 356.3L398.1 357.8L399.8 359.3L401.4 360.9L403.1 362.4L404.9 363.9L406.6 365.4L408.3 366.9L410.0 368.4L411.7 369.9L413.4 371.4L415.1 372.9L416.8 374.4L418.6 375.9L420.3 377.4L422.0 378.9L423.8 380.4L425.5 381.9L427.2 383.4L429.0 384.9L430.7 386.5L432.4 388.0L434.2 389.5L435.9 391.0L437.7 392.5L439.4 394.0L441.2 395.5L442.9 397.0L444.7 398.5" stroke="#000000" stroke-width="1.7"/><path d="M160.6 8.8L161.3 10.3L161.9 11.8L162.6 13.3L163.3 14.8L164.0 16.3L164.6 17.8L165.3 19.3L166.0 20.8L166.7 22.3L167.4 23.9L168.1 25.4L168.9 26.9L169.6 28.4L170.3 29.9L171.0 31.4L171.8 32.9L172.5 34.4L173.3 35.9L174.0 37.4L174.8 38.9L175.6 40.4L176.3 42.0L177.1 43.5L177.9 45.0L178.7 46.5L179.5 48.0L180.3 49.5L181.1 51.0L181.9 52.5L182.8 54.0L183.6 55.5L184.4 57.0L185.3 58.5L186.1 60.1L187.0 61.6L187.8 63.1L188.7 64.6L189.6 66.1L190.4 67.6L191.3 69.1L192.2 70.6L193.1 72.1L194.0 73.6L194.9 75.1L195.8 76.6L196.8 78.2L197.7 79.7L198.6 81.2L199.6 82.7L200.5 84.2L201.5 85.7L202.4 87.2L203.4 88.7L204.3 90.2L205.3 91.7L206.3 93.2L207.3 94.7L208.3 96.2L209.3 97.8L210.3 99.3L211.3 100.8L212.3 102.3L213.4 103.8L214.4 105.3L215.4 106.8L216.5 108.3L217.5 109.8L218.6 111.3L219.6 112.8L220.7 114.3L221.8 115.9L222.9 117.4L224.0 118.9L225.0 120.4L226.1 121.9L227.3 123.4L228.4 124.9L229.5 126.4L230.6 127.9L231.7 129.4L232.9 130.9L234.0 132.4L235.2 133.9L236.3 135.5L237.5 137.0L238.7 138.5L239.8 140.0L241.0 141.5L242.2 143.0L243.4 144.5L244.6 146.0L245.8 147.5L247.0 149.0L248.2 150.5L249.4 152.0L250.7 153.6L251.9 155.1L253.1 156.6L254.4 158.1L255.6 159.6L256.9 161.1L258.2 162.6L259.4 164.1L260.7 165.6L262.0 167.1L263.3 168.6L264.6 170.1L265.9 171.6L267.2 173.2L268.5 174.7L269.8 176.2L271.1 177.7L272.5 179.2L273.8 180.7L275.1 182.2L276.5 183.7L277.8 185.2L279.2 186.7L280.6 188.2L281.9 189.7L283.3 191.2L284.7 192.8L286.1 194.3L287.5 195.8L288.8 197.3L290.2 198.8L291.7 200.3L293.1 201.8L294.5 203.3L295.9 204.8L297.3 206.3L298.8 207.8L300.2 209.3L301.7 210.8L303.1 212.4L304.6 213.9L306.0 215.4L307.5 216.9L309.0 218.4L310.4 219.9L311.9 221.4L313.4 222.9L314.9 224.4L316.4 225.9L317.9 227.4L319.4 228.9L320.9 230.4L322.5 231.9L324.0 233.5L325.5 235.0L327.0 236.5L328.6 238.0L330.1 239.5L331.7 241.0L333.2 242.5L334.8 244.0L336.3 245.5L337.9 247.0L339.5 248.5L341.0 250.0L342.6 251.5L344.2 253.1L345.8 254.6L347.4 256.1L349.0 257.6L350.6 259.1L352.2 260.6L353.8 262.1L355.4 263.6L357.0 265.1L358.7 266.6L360.3 268.1L361.9 269.6L363.6 271.1L365.2 272.6L366.9 274.2L368.5 275.7L370.2 277.2L371.8 278.7L373.5 280.2L375.1 281.7L376.8 283.2L378.5 284.7L380.2 286.2L381.8 287.7L383.5 289.2L385.2 290.7L386.9 292.2L388.6 293.7L390.3 295.3L392.0 296.8L393.7 298.3L395.4 299.8L397.1 301.3L398.8 302.8L400.5 304.3L402.3 305.8L404.0 307.3L405.7 308.8L407.4 310.3L409.2 311.8L410.9 313.3L412.6 314.8L414.4 316.4L416.1 317.9L417.9 319.4L419.6 320.9L421.4 322.4L423.1 323.9L424.9 325.4L426.6 326.9L428.4 328.4L430.2 329.9L431.9 331.4L433.7 332.9L435.5 334.4L437.3 335.9L439.0 337.4L440.8 339.0L442.6 340.5L444.4 342.0L446.2 343.5L447.9 345.0L449.7 346.5L451.5 348.0L453.3 349.5L455.1 351.0L456.9 352.5L458.7 354.0L460.5 355.5L462.3 357.0L464.1 358.5L465.9 360.0L467.7 361.6L469.5 363.1L471.3 364.6L473.1 366.1L474.9 367.6L476.7 369.1L478.5 370.6L480.3 372.1L482.2 373.6L484.0 375.1L485.8 376.6L487.6 378.1L489.4 379.6L491.2 381.1L493.0 382.6L494.8 384.2L496.7 385.7L498.5 387.2L500.3 388.7L502.1 390.2L503.9 391.7L505.7 393.2L507.6 394.7L509.4 396.2L511.2 397.7L513.0 399.2" stroke="#000000" stroke-width="1.8"/><path d="M161.9 8.2L162.6 9.7L163.2 11.2L163.9 12.7L164.6 14.2L165.2 15.7L165.9 17.2L166.6 18.7L167.3 20.3L168.0 21.8L168.7 23.3L169.4 24.8L170.1 26.3L170.9 27.8L171.6 29.3L172.3 30.8L173.1 32.3L173.8 33.8L174.6 35.3L175.3 36.8L176.1 38.3L176.8 39.8L177.6 41.3L178.4 42.8L179.2 44.3L180.0 45.8L180.8 47.3L181.6 48.8L182.4 50.3L183.2 51.8L184.0 53.3L184.9 54.8L185.7 56.3L186.5 57.8L187.4 59.3L188.2 60.8L189.1 62.3L190.0 63.8L190.8 65.4L191.7 66.9L192.6 68.4L193.5 69.9L194.4 71.4L195.3 72.9L196.2 74.4L197.1 75.9L198.0 77.4L198.9 78.9L199.9 80.4L200.8 81.9L201.8 83.4L202.7 84.9L203.7 86.4L204.6 87.9L205.6 89.4L206.6 90.9L207.6 92.4L208.5 93.9L209.5 95.4L210.5 96.9L211.5 98.4L212.6 99.9L213.6 101.4L214.6 102.9L215.6 104.4L216.7 105.9L217.7 107.5L218.8 109.0L219.8 110.5L220.9 112.0L221.9 113.5L223.0 115.0L224.1 116.5L225.2 118.0L226.3 119.5L227.4 121.0L228.5 122.5L229.6 124.0L230.7 125.5L231.8 127.0L233.0 128.5L234.1 130.0L235.2 131.5L236.4 133.0L237.5 134.5L238.7 136.0L239.9 137.5L241.0 139.0L242.2 140.5L243.4 142.0L244.6 143.5L245.8 145.0L247.0 146.5L248.2 148.0L249.4 149.6L250.7 151.1L251.9 152.6L253.1 154.1L254.4 155.6L255.6 157.1L256.8 158.6L258.1 160.1L259.4 161.6L260.6 163.1L261.9 164.6L263.2 166.1L264.5 167.6L265.8 169.1L267.1 170.6L268.4 172.1L269.7 173.6L271.0 175.1L272.3 176.6L273.7 178.1L275.0 179.6L276.3 181.1L277.7 182.6L279.0 184.1L280.4 185.6L281.7 187.1L283.1 188.7L284.5 190.2L285.9 191.7L287.2 193.2L288.6 194.7L290.0 196.2L291.4 197.7L292.8 199.2L294.3 200.7L295.7 202.2L297.1 203.7L298.5 205.2L300.0 206.7L301.4 208.2L302.8 209.7L304.3 211.2L305.8 212.7L307.2 214.2L308.7 215.7L310.1 217.2L311.6 218.7L313.1 220.2L314.6 221.7L316.1 223.2L317.6 224.7L319.1 226.3L320.6 227.8L322.1 229.3L323.6 230.8L325.1 232.3L326.7 233.8L328.2 235.3L329.7 236.8L331.3 238.3L332.8 239.8L334.4 241.3L335.9 242.8L337.5 244.3L339.1 245.8L340.6 247.3L342.2 248.8L343.8 250.3L345.4 251.8L347.0 253.3L348.6 254.8L350.2 256.3L351.8 257.8L353.4 259.3L355.0 260.9L356.6 262.4L358.2 263.9L359.8 265.4L361.5 266.9L363.1 268.4L364.7 269.9L366.4 271.4L368.0 272.9L369.7 274.4L371.3 275.9L373.0 277.4L374.6 278.9L376.3 280.4L378.0 281.9L379.6 283.4L381.3 284.9L383.0 286.4L384.7 287.9L386.4 289.4L388.0 290.9L389.7 292.4L391.4 293.9L393.1 295.5L394.8 297.0L396.5 298.5L398.3 300.0L400.0 301.5L401.7 303.0L403.4 304.5L405.1 306.0L406.9 307.5L408.6 309.0L410.3 310.5L412.1 312.0L413.8 313.5L415.5 315.0L417.3 316.5L419.0 318.0L420.8 319.5L422.5 321.0L424.3 322.5L426.0 324.0L427.8 325.5L429.6 327.0L431.3 328.6L433.1 330.1L434.9 331.6L436.6 333.1L438.4 334.6L440.2 336.1L442.0 337.6L443.7 339.1L445.5 340.6L447.3 342.1L449.1 343.6L450.9 345.1L452.7 346.6L454.5 348.1L456.3 349.6L458.1 351.1L459.9 352.6L461.7 354.1L463.5 355.6L465.3 357.1L467.1 358.7L468.9 360.2L470.7 361.7L472.5 363.2L474.3 364.7L476.1 366.2L477.9 367.7L479.7 369.2L481.5 370.7L483.3 372.2L485.1 373.7L487.0 375.2L488.8 376.7L490.6 378.2L492.4 379.7L494.2 381.2L496.0 382.7L497.8 384.2L499.7 385.7L501.5 387.2L503.3 388.7L505.1 390.3L506.9 391.8L508.7 393.3L510.6 394.8L512.4 396.3L514.2 397.8" stroke="#000000" stroke-width="1.8"/></g><g font-family="Liberation Serif, serif" font-size="24" text-anchor="middle" style="text-rendering:geometricPrecision"><rect x="195.9" y="100.8" width="54.0" height="24.7" fill="#fff"/><text x="222.9" y="0" fill="#000000" transform="translate(0,120.0) scale(1,1.04)">10,15</text><rect x="207.9" y="163.2" width="30.0" height="24.7" fill="#fff"/><text x="222.9" y="0" fill="#000000" transform="translate(0,182.4) scale(1,1.04)">6,8</text><rect x="217.4" y="243.4" width="11.0" height="24.7" fill="#fff"/><text x="222.9" y="0" fill="#000000" transform="translate(0,262.6) scale(1,1.04)">3</text><rect x="274.0" y="167.6" width="54.0" height="24.7" fill="#fff"/><text x="301.0" y="0" fill="#0000ff" transform="translate(0,186.8) scale(1,1.04)">10,15</text><rect x="286.0" y="230.4" width="30.0" height="24.7" fill="#fff"/><text x="301.0" y="0" fill="#0000ff" transform="translate(0,249.6) scale(1,1.04)">6,8</text><rect x="294.5" y="315.4" width="11.0" height="24.7" fill="#fff"/><text x="300.0" y="0" fill="#0000ff" transform="translate(0,334.6) scale(1,1.04)">3</text><rect x="351.4" y="187.6" width="54.0" height="24.7" fill="#fff"/><text x="378.4" y="0" fill="#ff0000" transform="translate(0,206.8) scale(1,1.04)">10,15</text><rect x="363.6" y="241.8" width="30.0" height="24.7" fill="#fff"/><text x="378.6" y="0" fill="#ff0000" transform="translate(0,261.0) scale(1,1.04)">6,8</text><rect x="373.2" y="345.8" width="11.0" height="24.7" fill="#fff"/><text x="378.7" y="0" fill="#ff0000" transform="translate(0,365.0) scale(1,1.04)">3</text></g><g stroke="#666" stroke-width="0.9" fill="none"><rect x="113.5" y="16.5" width="375.0" height="374.0" stroke="#555" stroke-width="1"/><path d="M129.12 390.5v-3.2M129.12 16.5v3.2M144.75 390.5v-3.2M144.75 16.5v3.2M160.38 390.5v-3.2M160.38 16.5v3.2M176.00 390.5v-5.5M176.00 16.5v5.5M191.62 390.5v-3.2M191.62 16.5v3.2M207.25 390.5v-3.2M207.25 16.5v3.2M222.88 390.5v-3.2M222.88 16.5v3.2M238.50 390.5v-3.2M238.50 16.5v3.2M254.12 390.5v-5.5M254.12 16.5v5.5M269.75 390.5v-3.2M269.75 16.5v3.2M285.38 390.5v-3.2M285.38 16.5v3.2M301.00 390.5v-3.2M301.00 16.5v3.2M316.62 390.5v-3.2M316.62 16.5v3.2M332.25 390.5v-5.5M332.25 16.5v5.5M347.88 390.5v-3.2M347.88 16.5v3.2M363.50 390.5v-3.2M363.50 16.5v3.2M379.12 390.5v-3.2M379.12 16.5v3.2M394.75 390.5v-3.2M394.75 16.5v3.2M410.38 390.5v-5.5M410.38 16.5v5.5M426.00 390.5v-3.2M426.00 16.5v3.2M441.62 390.5v-3.2M441.62 16.5v3.2M457.25 390.5v-3.2M457.25 16.5v3.2M472.88 390.5v-3.2M472.88 16.5v3.2M113.5 371.74h2.0M488.5 371.74h-2.0M113.5 360.76h2.0M488.5 360.76h-2.0M113.5 352.97h2.0M488.5 352.97h-2.0M113.5 346.93h2.0M488.5 346.93h-2.0M113.5 342.00h2.0M488.5 342.00h-2.0M113.5 337.82h2.0M488.5 337.82h-2.0M113.5 334.21h2.0M488.5 334.21h-2.0M113.5 331.02h2.0M488.5 331.02h-2.0M113.5 328.17h5.8M488.5 328.17h-5.8M113.5 309.40h2.0M488.5 309.40h-2.0M113.5 298.43h2.0M488.5 298.43h-2.0M113.5 290.64h2.0M488.5 290.64h-2.0M113.5 284.60h2.0M488.5 284.60h-2.0M113.5 279.66h2.0M488.5 279.66h-2.0M113.5 275.49h2.0M488.5 275.49h-2.0M113.5 271.87h2.0M488.5 271.87h-2.0M113.5 268.69h2.0M488.5 268.69h-2.0M113.5 265.83h5.8M488.5 265.83h-5.8M113.5 247.07h2.0M488.5 247.07h-2.0M113.5 236.09h2.0M488.5 236.09h-2.0M113.5 228.30h2.0M488.5 228.30h-2.0M113.5 222.26h2.0M488.5 222.26h-2.0M113.5 217.33h2.0M488.5 217.33h-2.0M113.5 213.16h2.0M488.5 213.16h-2.0M113.5 209.54h2.0M488.5 209.54h-2.0M113.5 206.35h2.0M488.5 206.35h-2.0M113.5 203.50h5.8M488.5 203.50h-5.8M113.5 184.74h2.0M488.5 184.74h-2.0M113.5 173.76h2.0M488.5 173.76h-2.0M113.5 165.97h2.0M488.5 165.97h-2.0M113.5 159.93h2.0M488.5 159.93h-2.0M113.5 155.00h2.0M488.5 155.00h-2.0M113.5 150.82h2.0M488.5 150.82h-2.0M113.5 147.21h2.0M488.5 147.21h-2.0M113.5 144.02h2.0M488.5 144.02h-2.0M113.5 141.17h5.8M488.5 141.17h-5.8M113.5 122.40h2.0M488.5 122.40h-2.0M113.5 111.43h2.0M488.5 111.43h-2.0M113.5 103.64h2.0M488.5 103.64h-2.0M113.5 97.60h2.0M488.5 97.60h-2.0M113.5 92.66h2.0M488.5 92.66h-2.0M113.5 88.49h2.0M488.5 88.49h-2.0M113.5 84.87h2.0M488.5 84.87h-2.0M113.5 81.69h2.0M488.5 81.69h-2.0M113.5 78.83h5.8M488.5 78.83h-5.8M113.5 60.07h2.0M488.5 60.07h-2.0M113.5 49.09h2.0M488.5 49.09h-2.0M113.5 41.30h2.0M488.5 41.30h-2.0M113.5 35.26h2.0M488.5 35.26h-2.0M113.5 30.33h2.0M488.5 30.33h-2.0M113.5 26.16h2.0M488.5 26.16h-2.0M113.5 22.54h2.0M488.5 22.54h-2.0M113.5 19.35h2.0M488.5 19.35h-2.0"/></g></svg>
<svg width="516" height="500" viewBox="0 0 516 500" style="position:absolute;left:0;top:0;text-rendering:geometricPrecision" font-family="Liberation Serif, serif" fill="#000"><text x="176.0" y="0" transform="translate(0,419.6) scale(1,1.03)" text-anchor="middle" font-size="27" >500</text><text x="254.12" y="0" transform="translate(0,419.6) scale(1,1.03)" text-anchor="middle" font-size="27" >1000</text><text x="332.25" y="0" transform="translate(0,419.6) scale(1,1.03)" text-anchor="middle" font-size="27" >1500</text><text x="410.38" y="0" transform="translate(0,419.6) scale(1,1.03)" text-anchor="middle" font-size="27" >2000</text><text x="488.5" y="0" transform="translate(0,419.6) scale(1,1.03)" text-anchor="middle" font-size="27" >2500</text><text x="107.9" y="0" transform="translate(0,25.8) scale(1,1.03)" text-anchor="end" font-size="27" >100</text><text x="107.9" y="0" transform="translate(0,88.13) scale(1,1.03)" text-anchor="end" font-size="27" >10</text><text x="107.9" y="0" transform="translate(0,150.47) scale(1,1.03)" text-anchor="end" font-size="27" >1</text><text x="107.9" y="0" transform="translate(0,212.8) scale(1,1.03)" text-anchor="end" font-size="27" >0.1</text><text x="107.9" y="0" transform="translate(0,275.13) scale(1,1.03)" text-anchor="end" font-size="27" >0.01</text><text x="107.9" y="0" transform="translate(0,337.47) scale(1,1.03)" text-anchor="end" font-size="27" >0.001</text><text x="83.0" y="0" transform="translate(0,399.8) scale(1,1.03)" text-anchor="end" font-size="27" >10</text><text x="84.7" y="389.9" text-anchor="start" font-size="19.5" letter-spacing="0.6">−4</text><text x="335.7" y="58.5" text-anchor="start" font-size="33.5" >×</text><text x="352.6" y="54.7" text-anchor="start" font-size="27" ><tspan font-style="italic">Q</tspan><tspan font-size="18" dy="-10.4">4</tspan><tspan dy="10.4"> for </tspan><tspan font-style="italic">Q</tspan>≠1</text><text x="128.5" y="373.2" text-anchor="start" font-size="27" letter-spacing="0.75">14 TeV</text><g transform="translate(25,248) rotate(-90)"><text x="0.6" y="0" text-anchor="start" font-size="27" font-style="italic" textLength="18.6" lengthAdjust="spacingAndGlyphs">σ</text><text x="19.2" y="4.3" text-anchor="start" font-size="20" font-style="italic" textLength="20.6" lengthAdjust="spacingAndGlyphs">γγ</text><text x="46.5" y="0" text-anchor="start" font-size="27" >(fb)</text></g><text x="261.2" y="457.6" text-anchor="middle" font-size="27" font-style="italic">M</text><rect x="249.6" y="469.6" width="26.9" height="1.4" fill="#000"/><text x="262.5" y="498.4" text-anchor="middle" font-size="27" >2</text><text x="286.0" y="477.9" text-anchor="start" font-size="27" letter-spacing="0.4">(GeV)</text></svg>
</div></body></html>
